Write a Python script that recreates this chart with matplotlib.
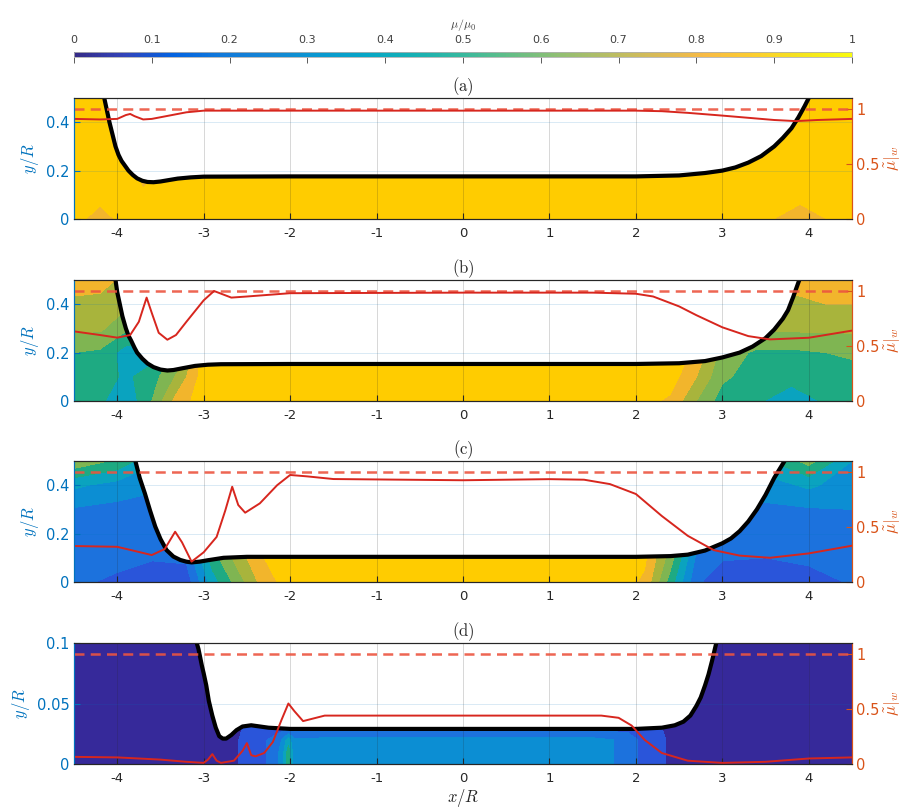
import numpy as np
import matplotlib as mpl
import matplotlib.pyplot as plt
from matplotlib.colors import LinearSegmentedColormap, ListedColormap, BoundaryNorm

plt.rcParams['mathtext.fontset'] = 'cm'
plt.rcParams['font.family'] = 'DejaVu Sans'

# parula-like colour map (every 4th entry of the MATLAB table) for the colour bar
parula_rgb = [
    (0.2081, 0.1663, 0.5292), (0.1959, 0.2645, 0.7279), (0.0117, 0.3875, 0.8820),
    (0.0629, 0.4737, 0.8554), (0.0793, 0.5200, 0.8312), (0.0343, 0.5966, 0.8199),
    (0.0228, 0.6535, 0.7768), (0.0843, 0.6928, 0.7062), (0.2178, 0.7250, 0.6193),
    (0.3953, 0.7459, 0.5244), (0.5709, 0.7485, 0.4494), (0.7184, 0.7411, 0.3905),
    (0.8507, 0.7299, 0.3360), (0.9739, 0.7314, 0.2666), (0.9880, 0.8066, 0.1794),
    (0.9589, 0.8949, 0.1132), (0.9763, 0.9831, 0.0538),
]
parula = LinearSegmentedColormap.from_list('parula', parula_rgb)

# filled-contour band colours as they appear in the figure (lower level of each band)
band_colors = ['#36299A', '#2A55DA', '#1C72DD', '#0C8ED3', '#0AA3BF',
               '#1EAA82', '#7FB552', '#A8B43C', '#F2B52C', '#FFCC00']
levels = np.linspace(0, 1, 11)
band_cmap = ListedColormap(band_colors)
band_norm = BoundaryNorm(levels, band_cmap.N)

cbar_ticks = [0, 0.1, 0.2, 0.3, 0.4, 0.5, 0.6, 0.7, 0.8, 0.9, 1]
cbar_labels = ['0', '0.1', '0.2', '0.3', '0.4', '0.5', '0.6', '0.7', '0.8', '0.9', '1']
x_ticks = [-4, -3, -2, -1, 0, 1, 2, 3, 4]
x_labels = ['-4', '-3', '-2', '-1', '0', '1', '2', '3', '4']
ref_level = 1.0

# ---------------- panel (a) ----------------
xb_a = [-4.15, -4.12, -4.09, -4.055, -4.02, -3.985, -3.95, -3.91, -3.87, -3.82, -3.77, -3.71,
        -3.65, -3.58, -3.5, -3.4, -3.3, -3.15, -3.0, -2.0, 0.0, 2.0, 2.5, 2.8, 3.0, 3.15, 3.3,
        3.45, 3.6, 3.7, 3.8, 3.88, 3.95, 4.0]
yb_a = [0.50, 0.45, 0.40, 0.35, 0.30, 0.265, 0.24, 0.22, 0.20, 0.182, 0.168, 0.158,
        0.153, 0.152, 0.155, 0.161, 0.167, 0.172, 0.175, 0.176, 0.176, 0.176, 0.18, 0.19, 0.20,
        0.213, 0.233, 0.26, 0.30, 0.335, 0.375, 0.42, 0.465, 0.50]
xr_a = [-4.5, -4.2, -4.0, -3.9, -3.85, -3.8, -3.7, -3.6, -3.4, -3.2, -3.0, -2.0, 0.0,
        2.0, 2.3, 2.6, 3.0, 3.3, 3.6, 3.85, 4.1, 4.5]
yr_a = [0.91, 0.905, 0.91, 0.945, 0.955, 0.935, 0.905, 0.91, 0.94, 0.97, 0.985, 0.985, 0.985,
        0.985, 0.98, 0.965, 0.94, 0.92, 0.90, 0.89, 0.90, 0.91]
xg_a = [-4.5, -4.2, -3.9, -3.7, -3.4, -3.0, 0.0, 3.0, 3.4, 3.9, 4.4, 4.5]
yg_a = [0.0, 0.1, 0.2, 0.3, 0.5]
z_a = [
    [0.95, 0.84, 0.95, 0.95, 0.95, 0.95, 0.95, 0.95, 0.95, 0.82, 0.95, 0.95],
    [0.95, 0.95, 0.95, 0.92, 0.95, 0.95, 0.95, 0.95, 0.95, 0.95, 0.95, 0.95],
    [0.95, 0.95, 0.95, 0.84, 0.95, 0.95, 0.95, 0.95, 0.95, 0.95, 0.95, 0.95],
    [0.95, 0.95, 0.95, 0.95, 0.95, 0.95, 0.95, 0.95, 0.95, 0.95, 0.95, 0.95],
    [0.95, 0.95, 0.95, 0.95, 0.95, 0.95, 0.95, 0.95, 0.95, 0.95, 0.95, 0.95],
]

# ---------------- panel (b) ----------------
xb_b = [-4.02, -4.0, -3.97, -3.94, -3.9, -3.87, -3.84, -3.8, -3.77, -3.71, -3.65, -3.58, -3.5,
        -3.42, -3.35, -3.25, -3.1, -2.95, -2.8, -2.0, 0.0, 2.0, 2.5, 2.8, 3.0, 3.2, 3.35, 3.5,
        3.6, 3.7, 3.76, 3.82, 3.89]
yb_b = [0.50, 0.45, 0.40, 0.35, 0.30, 0.27, 0.25, 0.22, 0.20, 0.175, 0.155, 0.14, 0.13,
        0.126, 0.128, 0.135, 0.145, 0.15, 0.152, 0.153, 0.153, 0.153, 0.156, 0.165, 0.18, 0.20,
        0.225, 0.26, 0.295, 0.34, 0.375, 0.43, 0.50]
xr_b = [-4.5, -4.2, -4.0, -3.85, -3.75, -3.66, -3.6, -3.52, -3.42, -3.32, -3.2, -3.0, -2.88,
        -2.68, -2.5, -2.0, 0.0, 1.5, 2.0, 2.2, 2.5, 2.7, 3.0, 3.3, 3.55, 4.0, 4.5]
yr_b = [0.633, 0.60, 0.576, 0.60, 0.72, 0.94, 0.80, 0.62, 0.557, 0.60, 0.72, 0.915, 1.0,
        0.94, 0.95, 0.98, 0.985, 0.985, 0.975, 0.95, 0.86, 0.78, 0.67, 0.59, 0.56, 0.575, 0.64]
xg_b = [-4.5, -4.2, -3.9, -3.6, -3.3, -3.0, -2.0, 2.0, 2.4, 2.7, 3.0, 3.4, 3.8, 4.2, 4.5]
yg_b = [0.0, 0.1, 0.2, 0.3, 0.4, 0.5]
z_b = [
    [0.55, 0.52, 0.42, 0.60, 0.85, 0.95, 0.95, 0.95, 0.88, 0.70, 0.55, 0.52, 0.42, 0.52, 0.55],
    [0.55, 0.55, 0.48, 0.55, 0.72, 0.95, 0.95, 0.95, 0.95, 0.80, 0.62, 0.55, 0.55, 0.55, 0.55],
    [0.60, 0.58, 0.45, 0.45, 0.62, 0.95, 0.95, 0.95, 0.95, 0.88, 0.66, 0.58, 0.58, 0.60, 0.62],
    [0.72, 0.72, 0.62, 0.60, 0.60, 0.90, 0.95, 0.95, 0.95, 0.90, 0.72, 0.72, 0.72, 0.72, 0.72],
    [0.76, 0.75, 0.72, 0.65, 0.65, 0.80, 0.95, 0.95, 0.90, 0.80, 0.72, 0.72, 0.76, 0.80, 0.80],
    [0.88, 0.86, 0.76, 0.70, 0.70, 0.75, 0.95, 0.95, 0.85, 0.75, 0.72, 0.74, 0.85, 0.88, 0.88],
]

# ---------------- panel (c) ----------------
xb_c = [-3.79, -3.74, -3.68, -3.62, -3.56, -3.5, -3.43, -3.35, -3.27, -3.2, -3.14, -3.05,
        -2.95, -2.77, -2.5, -2.0, 0.0, 2.0, 2.4, 2.6, 2.8, 3.0, 3.1, 3.2, 3.3, 3.4, 3.5, 3.6,
        3.66, 3.72]
yb_c = [0.50, 0.43, 0.366, 0.295, 0.229, 0.178, 0.132, 0.105, 0.091, 0.084, 0.081, 0.084,
        0.09, 0.10, 0.104, 0.104, 0.104, 0.104, 0.107, 0.113, 0.13, 0.16, 0.18, 0.21, 0.25,
        0.30, 0.36, 0.43, 0.465, 0.50]
xr_c = [-4.5, -4.0, -3.6, -3.45, -3.33, -3.25, -3.14, -3.0, -2.85, -2.75, -2.67, -2.6, -2.52,
        -2.35, -2.15, -2.0, -1.8, -1.5, 0.0, 1.0, 1.4, 1.7, 2.0, 2.3, 2.6, 2.9, 3.2, 3.55, 4.0, 4.5]
yr_c = [0.327, 0.32, 0.245, 0.30, 0.457, 0.36, 0.185, 0.27, 0.41, 0.65, 0.866, 0.70, 0.63,
        0.715, 0.88, 0.973, 0.96, 0.936, 0.925, 0.935, 0.93, 0.89, 0.80, 0.60, 0.42, 0.29, 0.24,
        0.22, 0.26, 0.33]
xg_c = [-4.5, -4.0, -3.6, -3.2, -2.9, -2.6, -2.3, -2.0, 1.8, 2.1, 2.4, 2.7, 3.0, 3.5, 4.0, 4.5]
yg_c = [0.0, 0.1, 0.2, 0.3, 0.4, 0.5]
z_c = [
    [0.22, 0.18, 0.13, 0.14, 0.45, 0.65, 0.85, 0.95, 0.95, 0.88, 0.55, 0.22, 0.13, 0.12, 0.16, 0.21],
    [0.24, 0.23, 0.21, 0.22, 0.55, 0.75, 0.90, 0.95, 0.95, 0.92, 0.65, 0.28, 0.21, 0.20, 0.22, 0.24],
    [0.25, 0.25, 0.25, 0.25, 0.55, 0.80, 0.92, 0.95, 0.95, 0.93, 0.75, 0.30, 0.25, 0.25, 0.25, 0.25],
    [0.29, 0.27, 0.26, 0.27, 0.55, 0.80, 0.92, 0.95, 0.95, 0.93, 0.75, 0.30, 0.27, 0.28, 0.29, 0.30],
    [0.42, 0.36, 0.32, 0.32, 0.55, 0.80, 0.92, 0.95, 0.95, 0.93, 0.75, 0.32, 0.32, 0.35, 0.42, 0.34],
    [0.68, 0.58, 0.42, 0.36, 0.55, 0.80, 0.92, 0.95, 0.95, 0.93, 0.75, 0.36, 0.36, 0.48, 0.64, 0.40],
]

# ---------------- panel (d) ----------------
xb_d = [-3.08, -3.06, -3.04, -3.02, -3.0, -2.97, -2.94, -2.9, -2.86, -2.82, -2.78, -2.74,
        -2.68, -2.62, -2.55, -2.45, -2.35, -2.25, -2.0, 0.0, 2.0, 2.3, 2.45, 2.55, 2.63, 2.7,
        2.75, 2.8, 2.84, 2.88, 2.93]
yb_d = [0.10, 0.095, 0.088, 0.081, 0.075, 0.065, 0.052, 0.04, 0.03, 0.023, 0.021, 0.021,
        0.024, 0.028, 0.031, 0.032, 0.031, 0.030, 0.029, 0.029, 0.029, 0.030, 0.032, 0.035,
        0.04, 0.048, 0.055, 0.065, 0.074, 0.085, 0.10]
xr_d = [-4.5, -4.0, -3.5, -3.2, -3.0, -2.95, -2.9, -2.85, -2.8, -2.65, -2.55, -2.5, -2.45,
        -2.4, -2.3, -2.2, -2.1, -2.02, -1.95, -1.85, -1.7, -1.6, 0.0, 1.6, 1.8, 1.95, 2.1,
        2.3, 2.6, 3.0, 3.5, 4.0, 4.5]
yr_d = [0.065, 0.06, 0.04, 0.02, 0.01, 0.04, 0.09, 0.03, 0.01, 0.03, 0.12, 0.19, 0.08,
        0.07, 0.10, 0.20, 0.40, 0.55, 0.48, 0.39, 0.42, 0.44, 0.44, 0.44, 0.42, 0.35, 0.22,
        0.10, 0.03, 0.01, 0.02, 0.05, 0.06]
xg_d = [-4.5, -3.0, -2.7, -2.55, -2.35, -2.1, -2.02, -1.95, -1.5, 0.0, 1.5, 1.9, 2.1, 2.3,
        2.5, 3.0, 4.5]
yg_d = [0.0, 0.01, 0.02, 0.03, 0.05, 0.1]
z_d = [
    [0.03, 0.03, 0.05, 0.12, 0.15, 0.32, 0.55, 0.32, 0.33, 0.33, 0.33, 0.28, 0.15, 0.12, 0.03, 0.03, 0.03],
    [0.03, 0.03, 0.05, 0.12, 0.15, 0.32, 0.55, 0.32, 0.33, 0.33, 0.33, 0.28, 0.15, 0.12, 0.03, 0.03, 0.03],
    [0.03, 0.03, 0.05, 0.12, 0.15, 0.30, 0.45, 0.32, 0.33, 0.33, 0.33, 0.28, 0.15, 0.12, 0.03, 0.03, 0.03],
    [0.03, 0.03, 0.05, 0.10, 0.12, 0.15, 0.15, 0.15, 0.15, 0.15, 0.15, 0.15, 0.12, 0.10, 0.03, 0.03, 0.03],
    [0.03, 0.03, 0.03, 0.03, 0.03, 0.03, 0.03, 0.03, 0.03, 0.03, 0.03, 0.03, 0.03, 0.03, 0.03, 0.03, 0.03],
    [0.03, 0.03, 0.03, 0.03, 0.03, 0.03, 0.03, 0.03, 0.03, 0.03, 0.03, 0.03, 0.03, 0.03, 0.03, 0.03, 0.03],
]

panels = [
    ('(a)', xg_a, yg_a, z_a, xb_a, yb_a, xr_a, yr_a, 0.5, [0, 0.2, 0.4], ['0', '0.2', '0.4']),
    ('(b)', xg_b, yg_b, z_b, xb_b, yb_b, xr_b, yr_b, 0.5, [0, 0.2, 0.4], ['0', '0.2', '0.4']),
    ('(c)', xg_c, yg_c, z_c, xb_c, yb_c, xr_c, yr_c, 0.5, [0, 0.2, 0.4], ['0', '0.2', '0.4']),
    ('(d)', xg_d, yg_d, z_d, xb_d, yb_d, xr_d, yr_d, 0.1, [0, 0.05, 0.1], ['0', '0.05', '0.1']),
]

blue = '#0072BD'
orange = '#D95319'
red = '#D7261E'
dark = '#262626'

W, H = 909, 810
fig = plt.figure(figsize=(W / 100, H / 100), dpi=100)

axes_top_px = [98, 280, 461, 643]
ax_h = 121
for (title, xg, yg, z, xb, yb, xr, yr, ytop, yt, ytl), top in zip(panels, axes_top_px):
    ax = fig.add_axes([74 / W, 1 - (top + ax_h) / H, 778 / W, ax_h / H])
    ax.contourf(xg, yg, z, levels=levels, cmap=band_cmap, norm=band_norm, zorder=1)
    ax.fill_between(xb, yb, ytop * 1.2, color='white', lw=0, zorder=2)
    ax.plot(xb, yb, color='black', lw=3, zorder=4, solid_capstyle='round',
            solid_joinstyle='round')
    ax.set_xlim(-4.5, 4.5)
    ax.set_ylim(0, ytop)
    ax.set_axisbelow(False)
    ax.xaxis.grid(True, color=dark, alpha=0.18, lw=0.7)
    ax.yaxis.grid(True, color=blue, alpha=0.15, lw=0.7)
    ax.set_xticks(x_ticks)
    ax.set_xticklabels(x_labels)
    ax.set_yticks(yt)
    ax.set_yticklabels(ytl)
    ax.tick_params(axis='x', direction='in', length=4, colors=dark, labelsize=9.5, pad=6)
    ax.tick_params(axis='y', direction='in', length=4, colors=blue, labelsize=10.5, pad=3)
    ax.set_ylabel(r'$y/R$', color=blue, fontsize=12, labelpad=4)
    ax.set_title(r'$\mathrm{' + title + '}$', fontsize=12, color=dark, pad=4)

    ax2 = ax.twinx()
    ax2.axhline(ref_level, color='#EC5540', lw=1.8, ls=(0, (4, 2.5)), alpha=0.9)
    ax2.plot(xr, yr, color=red, lw=1.4)
    ax2.set_ylim(0, 1.1)
    ax2.set_yticks([0, 0.5, 1])
    ax2.set_yticklabels(['0', '0.5', '1'])
    ax2.tick_params(axis='y', direction='in', length=4, colors=orange, labelsize=10.5, pad=3)
    ax2.set_ylabel(r'$\tilde{\mu}|_w$', color=orange, fontsize=12, labelpad=2)

    for a in (ax, ax2):
        a.spines['left'].set_color(blue)
        a.spines['right'].set_color(orange)
        a.spines['top'].set_color(dark)
        a.spines['bottom'].set_color(dark)
        for s in a.spines.values():
            s.set_linewidth(0.8)

    if title == '(d)':
        ax.set_xlabel(r'$x/R$', color=dark, fontsize=12, labelpad=1)

# colour bar
cax = fig.add_axes([74 / W, 1 - 57 / H, 778 / W, 5 / H])
sm = mpl.cm.ScalarMappable(norm=mpl.colors.Normalize(0, 1), cmap=parula)
cb = fig.colorbar(sm, cax=cax, orientation='horizontal', ticks=cbar_ticks)
cb.set_ticklabels(cbar_labels)
cax.tick_params(bottom=True, top=False, labelbottom=False, labeltop=True,
                direction='out', length=4, labelsize=8, colors='#404040', width=0.6, pad=1)
cb.outline.set_edgecolor('#b0b0b0')
cb.outline.set_linewidth(0.6)
cax.xaxis.set_label_position('top')
cb.set_label(r'$\mu/\mu_0$', fontsize=8.5, color='#404040', labelpad=5)

fig.savefig('out.png', dpi=100)
